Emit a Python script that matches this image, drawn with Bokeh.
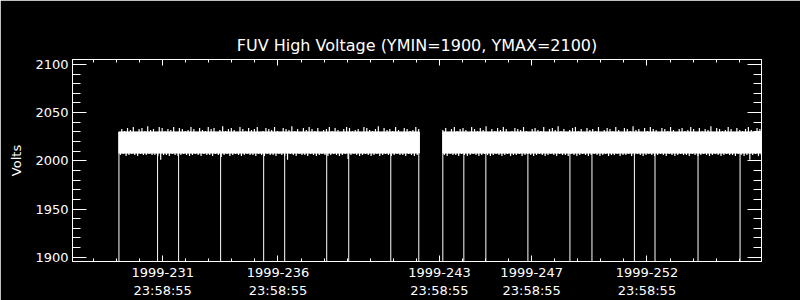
import numpy as np
from bokeh.plotting import figure
from bokeh.models import (Range1d, LinearAxis, FixedTicker, CustomJSTickFormatter,
                          ColumnDataSource)
from bokeh.embed import file_html
from bokeh.resources import INLINE

# ---------------- text ----------------
title_text = "FUV High Voltage (YMIN=1900, YMAX=2100)"
y_label = "Volts"
tick_year = "1999"
tick_time = "23:58:55"
labeled_days = [231, 236, 243, 247, 252]          # day-of-year of labelled ticks
minor_days = list(range(228, 258))                # a tick every day
tick_day_fraction = (23 * 3600 + 58 * 60 + 55) / 86400.0
y_major = [1900, 1950, 2000, 2050, 2100]
y_minor = list(range(1900, 2101, 10))

# ---------------- ranges (day of year / volts) ----------------
x_start, x_end = 228.088, 257.966
y_min, y_max = 1895.6, 2105.1

# ---------------- data ----------------
seg_start = [230.10, 244.147]
seg_end = [243.13, 258.2]
sample_step = 0.125
core_lo = [2008.0, 2008.0]
core_hi = [2030.0, 2030.0]

seg1_hi = [2030, 2033, 2031, 2034, 2032, 2035, 2030, 2033, 2034, 2031,
           2036, 2032, 2033, 2030, 2035, 2034, 2031, 2033, 2032, 2035,
           2030, 2034, 2033, 2031, 2032, 2035, 2033, 2030, 2034, 2032,
           2031, 2035, 2033, 2034, 2030, 2032, 2036, 2031, 2033, 2034,
           2032, 2030, 2035, 2033, 2031, 2034, 2032, 2033, 2035, 2030,
           2031, 2034, 2033, 2032, 2035, 2031, 2030, 2034, 2033, 2032,
           2036, 2031, 2033, 2030, 2034, 2032, 2035, 2033, 2031, 2034,
           2030, 2032, 2033, 2035, 2031, 2034, 2032, 2030, 2033, 2035,
           2034, 2031, 2032, 2033, 2030, 2035, 2034, 2032, 2031, 2033,
           2036, 2030, 2034, 2032, 2033, 2031, 2035, 2032, 2030, 2034,
           2033, 2031, 2032, 2035, 2033]
seg1_lo = [2006, 2007, 2005, 2006, 2007, 2006, 2005, 2007, 2006, 2006,
           2007, 2006, 2006, 2005, 2001, 2006, 2006, 2005, 2007, 2006,
           2005, 2006, 2007, 2006, 2005, 2006, 2007, 2006, 2005, 2007,
           2006, 2006, 2005, 2007, 2006, 2004, 2006, 2007, 2005, 2006,
           2007, 2006, 2005, 2006, 2007, 2006, 2006, 2005, 2007, 2006,
           2005, 2007, 2006, 2006, 2005, 2007, 2006, 2005, 2001, 2007,
           2006, 2005, 2007, 2006, 2006, 2005, 2007, 2006, 2005, 2006,
           2007, 2006, 2005, 2006, 2007, 2006, 2005, 2006, 2007, 2002,
           2006, 2007, 2006, 2005, 2006, 2007, 2006, 2005, 2006, 2007,
           2005, 2006, 2007, 2006, 2005, 2006, 2007, 2006, 2006, 2005,
           2007, 2006, 2005, 2006, 2007]
seg2_hi = [2032, 2034, 2030, 2033, 2035, 2031, 2033, 2034, 2032, 2030,
           2035, 2033, 2031, 2034, 2032, 2036, 2030, 2033, 2031, 2034,
           2032, 2035, 2033, 2030, 2031, 2034, 2033, 2032, 2035, 2031,
           2030, 2033, 2034, 2032, 2031, 2035, 2030, 2033, 2034, 2032,
           2036, 2031, 2033, 2030, 2032, 2034, 2035, 2031, 2033, 2030,
           2034, 2032, 2033, 2031, 2035, 2030, 2032, 2034, 2033, 2031,
           2035, 2032, 2030, 2034, 2033, 2031, 2036, 2032, 2033, 2030,
           2034, 2031, 2035, 2033, 2032, 2030, 2034, 2033, 2031, 2035,
           2032, 2030, 2033, 2034, 2031, 2032, 2035, 2033, 2030, 2034,
           2031, 2033, 2032, 2036, 2030, 2034, 2033, 2031, 2032, 2035,
           2033, 2030, 2034, 2032, 2031, 2033, 2035, 2032, 2030, 2034,
           2033, 2031]
seg2_lo = [2006, 2005, 2007, 2006, 2006, 2005, 2007, 2006, 2005, 2006,
           2007, 2006, 2005, 2006, 2007, 2006, 2005, 2006, 2007, 2006,
           2005, 2006, 2007, 2005, 2006, 2006, 2007, 2005, 2006, 2007,
           2006, 2005, 2006, 2007, 2006, 2005, 2006, 2007, 2006, 2005,
           2007, 2006, 2006, 2005, 2007, 2006, 2005, 2006, 2007, 2006,
           2005, 2006, 2007, 2006, 2005, 2006, 2007, 2005, 2006, 2006,
           2007, 2005, 2006, 2006, 2007, 2005, 2006, 2007, 2006, 2005,
           2006, 2007, 2006, 2005, 2006, 2007, 2006, 2005, 2007, 2006,
           2005, 2006, 2007, 2006, 2006, 2005, 2007, 2006, 2005, 2006,
           2007, 2006, 2005, 2006, 2007, 2006, 2005, 2006, 2007, 2006,
           2006, 2005, 2007, 2006, 2005, 2006, 2001, 2006, 2007, 2005,
           2006, 2007]
seg_hi = [seg1_hi, seg2_hi]
seg_lo = [seg1_lo, seg2_lo]

drop_days = [230.102, 231.777, 232.689, 234.511, 236.378, 237.289, 239.112,
             240.067, 241.890, 243.105, 244.147, 245.058, 246.013, 247.836,
             249.659, 250.614, 252.454, 253.348, 255.214, 257.037]
drop_value = 0.0

# ---------------- figure ----------------
FONT = "DejaVu Sans"
WHITE = "white"

p = figure(width=800, height=300, output_backend="svg", toolbar_location=None,
           x_range=Range1d(x_start, x_end), y_range=Range1d(y_min, y_max),
           min_border_left=72, min_border_right=39, min_border_top=59,
           min_border_bottom=37, background_fill_color="black",
           border_fill_color="black", outline_line_color=WHITE,
           x_axis_location=None, y_axis_location=None)
p.xgrid.visible = False
p.ygrid.visible = False

p.title.text = title_text
p.title.align = "center"
p.title.text_color = WHITE
p.title.text_font = FONT
p.title.text_font_style = "normal"
p.title.text_font_size = "16px"

major_x = [d + tick_day_fraction for d in labeled_days]
minor_x = [d + tick_day_fraction for d in minor_days]
label_map = {str(d): f"{tick_year}-{d}\n{tick_time}" for d in labeled_days}

x_ticker = FixedTicker(ticks=major_x, minor_ticks=minor_x)
y_ticker = FixedTicker(ticks=y_major, minor_ticks=y_minor)

x_fmt = CustomJSTickFormatter(args=dict(labels=label_map), code="""
    const d = String(Math.floor(tick));
    return labels[d] !== undefined ? labels[d] : '';
""")
empty_fmt = CustomJSTickFormatter(code="return '';")


def style_axis(ax, major_len, minor_len):
    ax.axis_line_color = WHITE
    ax.axis_line_width = 1
    ax.major_tick_line_color = WHITE
    ax.minor_tick_line_color = WHITE
    ax.major_tick_in = major_len
    ax.major_tick_out = 0
    ax.minor_tick_in = minor_len
    ax.minor_tick_out = 0
    ax.major_label_text_color = WHITE
    ax.major_label_text_font = FONT
    ax.major_label_text_font_size = "13px"
    ax.axis_label_text_color = WHITE
    ax.axis_label_text_font = FONT
    ax.axis_label_text_font_size = "13px"
    ax.axis_label_text_font_style = "normal"


xb = LinearAxis(ticker=x_ticker, formatter=x_fmt)
style_axis(xb, 6, 3)
xb.major_label_standoff = 3
xb.major_label_text_line_height = 1.2
p.add_layout(xb, "below")

xt = LinearAxis(ticker=x_ticker, formatter=empty_fmt)
style_axis(xt, 6, 3)
xt.major_label_standoff = 0
p.add_layout(xt, "above")

yl = LinearAxis(ticker=y_ticker, axis_label=y_label)
style_axis(yl, 14, 8)
yl.major_label_standoff = 4
yl.axis_label_standoff = 8
p.add_layout(yl, "left")

yr = LinearAxis(ticker=y_ticker, formatter=empty_fmt)
style_axis(yr, 14, 8)
yr.major_label_standoff = 0
p.add_layout(yr, "right")

# core of the voltage band
core_src = ColumnDataSource(dict(left=seg_start, right=seg_end,
                                 bottom=core_lo, top=core_hi))
p.quad(left="left", right="right", bottom="bottom", top="top",
       source=core_src, fill_color=WHITE, line_color=WHITE, line_width=1)

# noise excursions above and below the core
for s, e, hi, lo, clo, chi in zip(seg_start, seg_end, seg_hi, seg_lo, core_lo, core_hi):
    t_hi = s + sample_step * np.arange(len(hi))
    m = t_hi <= e
    p.segment(x0=t_hi[m], y0=[chi] * int(m.sum()), x1=t_hi[m],
              y1=np.array(hi, dtype=float)[m], line_color=WHITE, line_width=1.2)
    t_lo = s + sample_step * np.arange(len(lo)) + sample_step / 2
    m = t_lo <= e
    p.segment(x0=t_lo[m], y0=np.array(lo, dtype=float)[m], x1=t_lo[m],
              y1=[clo] * int(m.sum()), line_color=WHITE, line_width=1.2)

# drop-outs
p.segment(x0=drop_days, y0=[drop_value] * len(drop_days), x1=drop_days,
          y1=[core_hi[0]] * len(drop_days), line_color=WHITE, line_width=1)

open("out.html", "w").write(file_html(p, INLINE))
